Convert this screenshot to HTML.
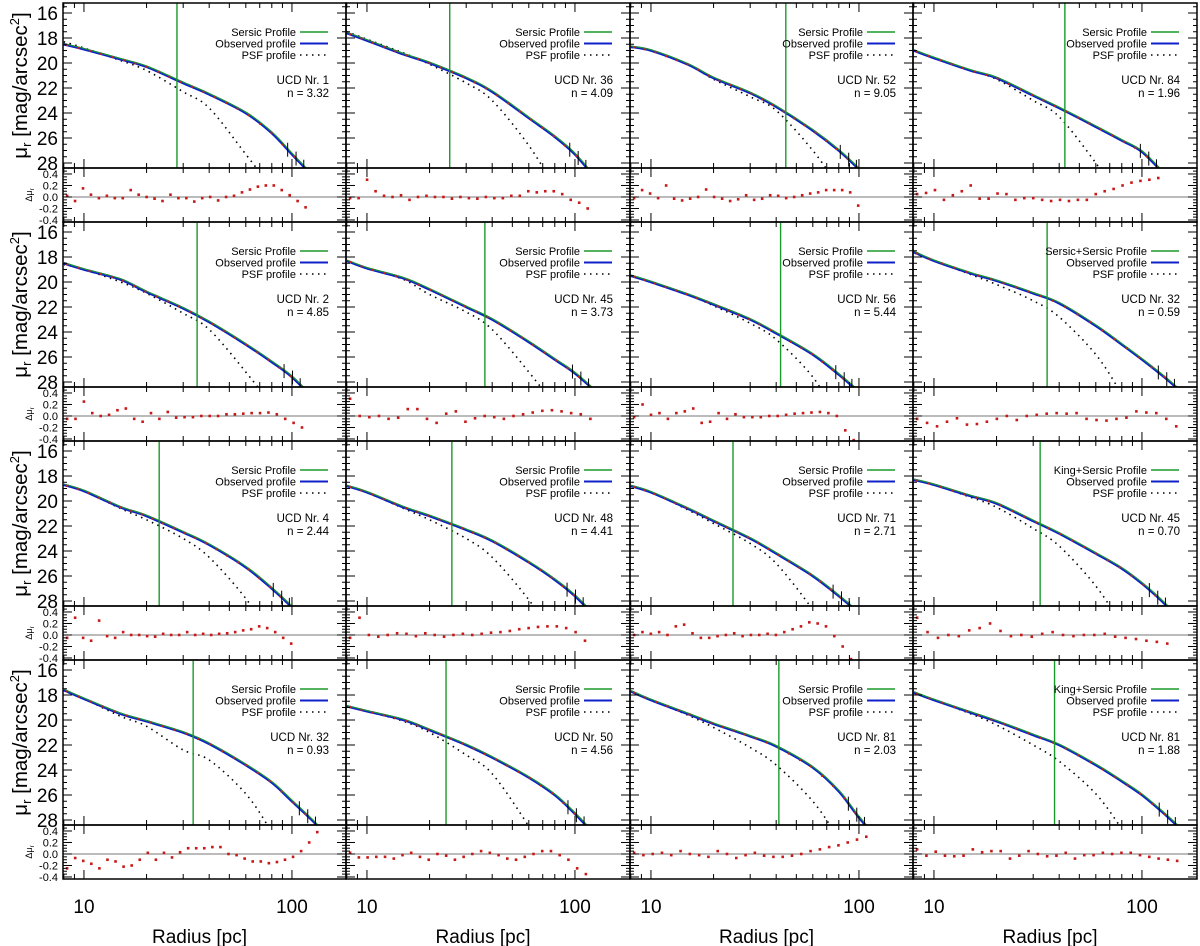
<!DOCTYPE html>
<html><head><meta charset="utf-8"><style>
html,body{margin:0;padding:0;background:#fff;}
svg{display:block;font-family:"Liberation Sans",sans-serif;}
</style></head><body>
<svg id="fig" width="1200" height="946" viewBox="0 0 1200 946" xmlns="http://www.w3.org/2000/svg"></svg>
<script>
// ---- data ----
const radiusGrid=[8,10,15,20,30,40,60,80,100,130,160];
const ucdLabels=["UCD Nr. 1","UCD Nr. 36","UCD Nr. 52","UCD Nr. 84","UCD Nr. 2","UCD Nr. 45","UCD Nr. 56","UCD Nr. 32","UCD Nr. 4","UCD Nr. 48","UCD Nr. 71","UCD Nr. 45","UCD Nr. 32","UCD Nr. 50","UCD Nr. 81","UCD Nr. 81"];
const sersicN=["3.32","4.09","9.05","1.96","4.85","3.73","5.44","0.59","2.44","4.41","2.71","0.70","0.93","4.56","2.03","1.88"];
const modelNames=["Sersic Profile","Sersic Profile","Sersic Profile","Sersic Profile","Sersic Profile","Sersic Profile","Sersic Profile","Sersic+Sersic Profile","Sersic Profile","Sersic Profile","Sersic Profile","King+Sersic Profile","Sersic Profile","Sersic Profile","Sersic Profile","King+Sersic Profile"];
const vlineRadius=[28,25,44.5,42.6,35,36.9,42,35,23,25.6,24.8,32.4,33.5,24,41.2,38];
const observedMu=[
[18.5,18.9,19.7,20.3,21.6,22.5,24.0,25.6,27.3,29.3,31],
[17.6,18.2,19.3,20.0,21.2,22.3,24.4,25.9,27.3,29.5,31],
[18.7,19.0,20.1,21.2,22.4,23.5,25.4,27.0,28.5,30.5,32],
[19.0,19.6,20.6,21.2,22.6,23.6,25.1,26.2,27.1,29.0,30.5],
[18.5,19.0,19.8,20.8,22.1,23.2,25.0,26.4,27.6,29.5,31],
[18.3,18.9,19.7,20.6,22.0,23.0,24.8,26.2,27.3,29.0,30.5],
[19.5,20.0,21.0,21.8,23.0,24.1,25.8,27.4,28.8,30.5,32],
[17.6,18.3,19.3,19.9,20.9,21.7,23.5,25.0,26.2,27.7,29.0],
[18.7,19.2,20.5,21.2,22.5,23.5,25.3,27.0,28.5,30.5,32],
[18.8,19.3,20.5,21.2,22.3,23.2,24.9,26.3,27.6,29.5,31],
[18.8,19.3,20.6,21.6,23.0,24.2,26.0,27.6,29.0,31,33],
[18.3,18.7,19.6,20.2,21.6,22.6,24.2,25.4,26.6,28.3,30],
[17.6,18.3,19.5,20.1,21.0,21.9,23.6,25.0,26.5,28.3,30],
[18.9,19.3,20.0,20.8,22.0,23.0,24.6,26.0,27.5,29.5,31],
[17.7,18.4,19.5,20.3,21.3,22.1,23.8,25.7,27.8,30,32],
[17.8,18.4,19.4,20.1,21.2,22.0,23.6,24.9,26.0,27.6,29.0]];
const psfMu=[
[18.3,18.8,19.8,20.6,22.3,23.6,27.3,30,32,34,36],
[17.5,18.1,19.2,20.1,21.6,23.0,26.6,30,33,35,37],
[18.7,19.0,20.1,21.3,22.7,23.8,27.0,30,33,35,37],
[19.0,19.6,20.6,21.3,23.0,24.3,28.0,31,33,35,37],
[18.6,19.0,20.0,20.9,22.5,23.8,27.2,30,33,35,37],
[18.3,18.9,19.8,21.0,22.4,23.8,27.2,30,33,35,37],
[19.5,20.0,21.0,21.9,23.3,24.6,27.6,31,33,35,37],
[17.6,18.3,19.4,20.2,21.5,22.8,25.8,29,32,35,37],
[18.7,19.2,20.6,21.5,23.0,24.5,27.8,31,33,35,37],
[18.8,19.3,20.6,21.5,23.0,24.5,27.9,31,33,35,37],
[18.8,19.3,20.7,21.8,23.4,25.0,28.7,32,34,36,38],
[18.3,18.7,19.7,20.5,22.2,23.6,26.8,30,33,35,37],
[17.6,18.3,19.7,20.5,22.4,23.2,25.9,29,32,35,37],
[18.9,19.3,20.1,21.0,22.8,24.3,28.5,32,34,36,38],
[17.7,18.4,19.6,20.6,22.2,23.6,26.5,29.5,32,35,37],
[17.8,18.4,19.5,20.4,22.0,23.3,25.9,28.7,31,34,36]];
const residuals=[
[0.02,-0.07,0.15,0.04,-0.02,0.02,-0.02,-0.02,0.12,0.04,0,-0.03,-0.07,0.04,-0.02,-0.02,-0.08,-0.02,0,-0.06,0,0.02,0.08,0.13,0.18,0.2,0.2,0.12,0.03,-0.07,-0.18],
[-0.02,-0.02,0.3,0.1,0.02,0,0.03,-0.05,0,0.02,0,0,-0.03,0,-0.02,-0.03,0,-0.02,-0.02,0.02,0.02,0.1,0.08,0.1,0.1,0.05,-0.05,-0.1,-0.2],
[-0.02,0.12,0.06,-0.02,0.2,-0.03,-0.06,-0.03,0,0.13,0,-0.03,-0.07,-0.04,0.03,-0.05,-0.03,0.03,0.02,-0.02,0,0.03,0.06,0.08,0.12,0.12,0.12,0.08,-0.15],
[0.05,0.07,0.12,-0.05,0.03,0.1,0.2,-0.03,-0.03,0.06,0.05,-0.05,-0.02,-0.02,-0.05,-0.07,-0.05,-0.07,-0.05,-0.05,0.05,0.1,0.14,0.2,0.25,0.28,0.3,0.33],
[-0.05,-0.05,0.25,0.05,0,0.02,0.1,0.13,-0.05,-0.1,0.05,-0.05,0.07,-0.03,-0.02,-0.02,0,0,0,0.03,0.03,0.04,0.05,0.05,0.06,0.03,-0.05,-0.12,-0.2],
[0.3,0,-0.02,0,-0.05,-0.03,0.12,0.12,-0.05,-0.12,0.04,0.08,-0.1,-0.04,0,-0.02,-0.05,0,0.03,0.06,0.09,0.1,0.08,0.05,0.03,-0.05],
[-0.02,0.2,0.02,0.05,-0.05,0.05,0.08,0.13,-0.12,-0.1,0.05,-0.05,0.03,-0.02,-0.02,-0.02,0,0,0.02,0.04,0.05,0.06,0.07,0.05,0,-0.25,-0.42],
[-0.05,-0.12,-0.18,-0.1,-0.04,-0.15,-0.14,-0.1,-0.05,0,-0.07,0,0.02,0.04,0.05,0.04,0.05,-0.05,-0.07,-0.08,-0.05,-0.03,0.08,0.06,0.05,-0.05,-0.18],
[-0.05,0.3,-0.05,-0.1,0.25,-0.02,-0.05,0.05,0,0,-0.02,-0.03,0.02,0,0,0.05,0,0.02,0,0.02,0.03,0.05,0.08,0.1,0.15,0.12,0.05,-0.05,-0.15],
[-0.05,0.3,0,-0.03,0,0.03,0.02,-0.02,0.03,0,-0.03,0,0.02,0,0.02,0.04,0.05,0.07,0.1,0.12,0.14,0.15,0.15,0.12,0.05,-0.1],
[0,0.05,0.02,0.05,0,0.15,0.18,0.03,-0.05,-0.05,-0.02,0,0.03,-0.02,0,0,0.02,0,0.05,0.1,0.15,0.22,0.2,0.15,-0.02,-0.2,-0.42],
[0.3,0.05,-0.05,0,-0.02,0.08,0.12,0.2,0.07,-0.02,0,-0.03,0.02,0.05,0,-0.02,0,0,0.02,-0.03,-0.05,-0.07,-0.1,-0.12,-0.15],
[-0.25,-0.07,-0.12,-0.17,-0.25,-0.1,-0.13,-0.22,-0.2,-0.1,0.02,-0.1,0.02,-0.06,0.03,0.1,0.1,0.1,0.12,0.12,0,-0.02,-0.08,-0.13,-0.13,-0.16,-0.14,-0.1,-0.05,0.05,0.2,0.38],
[0.02,-0.06,-0.06,-0.05,-0.05,-0.08,-0.02,0.02,-0.05,-0.1,0,-0.03,-0.1,-0.05,0,0.05,0.02,-0.02,-0.08,-0.1,-0.05,0,0.05,0.05,-0.02,-0.1,-0.25,-0.35],
[0.02,-0.02,0,0.02,-0.02,0.05,0,-0.02,-0.05,0.05,0,-0.07,-0.02,0.02,-0.03,-0.05,-0.05,-0.03,0,0.05,0.08,0.12,0.15,0.2,0.25,0.3],
[0.08,-0.03,0.04,-0.03,-0.04,-0.03,0.08,0.03,0.05,0.05,-0.08,-0.03,0.05,0,-0.04,-0.03,0.02,-0.08,-0.02,-0.02,0.02,0,0.02,0.02,-0.02,-0.05,-0.08,-0.1,-0.12]];
const yTicksMain=[16,18,20,22,24,26,28];
const yTicksRes=[0.4,0.2,0.0,-0.2,-0.4];
const xTickLabels=[10,100];

// ---- layout ----
const NS="http://www.w3.org/2000/svg";
const svg=document.getElementById('fig');
const colL=[63,346,630,913], colW=[283,284,283,284];
const rowT=[3,222,441,660], mainH=165, resH=54;
const MU_TOP=15.2, MU_PX=12.5;
const RES_TOP=0.504, RES_PX=57.5;
const LOG_MIN=Math.log10(7.93), DEC=208;
function mk(tag,attrs,parent){const e=document.createElementNS(NS,tag);for(const k in attrs)e.setAttribute(k,attrs[k]);(parent||svg).appendChild(e);return e;}
function xs(c,r){return colL[c]+DEC*(Math.log10(r)-LOG_MIN);}
function ym(rw,mu){return rowT[rw]+(mu-MU_TOP)*MU_PX;}
function yr(rw,v){return rowT[rw]+mainH+(RES_TOP-v)*RES_PX;}
function smooth(pts){let d="M"+pts[0][0].toFixed(1)+","+pts[0][1].toFixed(1);
 for(let i=0;i<pts.length-1;i++){const p0=pts[Math.max(0,i-1)],p1=pts[i],p2=pts[i+1],p3=pts[Math.min(pts.length-1,i+2)];
 d+=" C"+(p1[0]+(p2[0]-p0[0])/6).toFixed(1)+","+(p1[1]+(p2[1]-p0[1])/6).toFixed(1)+" "+(p2[0]-(p3[0]-p1[0])/6).toFixed(1)+","+(p2[1]-(p3[1]-p1[1])/6).toFixed(1)+" "+p2[0].toFixed(1)+","+p2[1].toFixed(1);}
 return d;}
function muAt(arr,r){const lr=Math.log10(r);for(let i=0;i<radiusGrid.length-1;i++){const a=Math.log10(radiusGrid[i]),b=Math.log10(radiusGrid[i+1]);if(lr<=b){const t=(lr-a)/(b-a);return arr[i]+t*(arr[i+1]-arr[i]);}}return arr[arr.length-1];}
function endRadius(arr){for(let r=8;r<180;r*=1.01){if(muAt(arr,r)>=28.4)return r;}return 180;}

const defs=mk('defs',{});
for(let rw=0;rw<4;rw++)for(let c=0;c<4;c++){
 const p=rw*4+c, L=colL[c], W=colW[c], T=rowT[rw];
 const cp=mk('clipPath',{id:'cm'+p},defs); mk('rect',{x:L,y:T,width:W,height:mainH},cp);
 const g=mk('g',{});
 
 
 const pg=mk('g',{'clip-path':'url(#cm'+p+')'},g);
 const psfPts=radiusGrid.map((r,i)=>[xs(c,r),ym(rw,psfMu[p][i])]);
 const ps=mk('path',{d:smooth(psfPts),fill:'none',stroke:'#000','stroke-width':1.6,'stroke-dasharray':'1.5 4.5'},pg);
 
 
 const obsPts=radiusGrid.map((r,i)=>[xs(c,r),ym(rw,observedMu[p][i])]);
 const ob=mk('path',{d:smooth(obsPts),fill:'none',stroke:'#1020c8','stroke-width':2.6},pg);
 
 
 const se=mk('path',{d:smooth(obsPts),fill:'none',stroke:'#1a9a2a','stroke-width':1.1,transform:'translate(0.6,-0.6)'},pg);
 
 
 const rEnd=endRadius(observedMu[p]);
 for(let k=0;k<22;k++){const r=8.3*Math.pow(rEnd/8.3,k/21);
  const d=mk('rect',{x:xs(c,r)-1,y:ym(rw,muAt(observedMu[p],r))-1,width:2,height:2,fill:'#c02020'},pg);
  
  }
 for(let k=0;k<3;k++){const r=rEnd*(0.82+0.08*k);const y=ym(rw,muAt(observedMu[p],r));
  mk('line',{x1:xs(c,r),x2:xs(c,r),y1:y-7,y2:y+7,stroke:'#000','stroke-width':1},pg);}
 const vl=mk('line',{x1:xs(c,vlineRadius[p]),x2:xs(c,vlineRadius[p]),y1:T,y2:T+mainH,stroke:'#1a9a2a','stroke-width':1.4},pg);
 
 
 mk('line',{x1:L,x2:L+W,y1:yr(rw,0),y2:yr(rw,0),stroke:'#777','stroke-width':1},g);
 const n=residuals[p].length;
 residuals[p].forEach((v,k)=>{const r=8.3*Math.pow(rEnd/8.3,k/(n-1));
  const d=mk('rect',{x:xs(c,r)-1.3,y:yr(rw,v)-1.3,width:2.6,height:2.6,fill:'#c81818'},g);
  
  });
 const tk=mk('g',{stroke:'#000','stroke-width':1},g);
 const xt=[8,9,10,20,30,40,50,60,70,80,90,100,200];
 xt.forEach(r=>{const x=xs(c,r);if(x<=L||x>=L+W)return;const len=(r===10||r===100)?9:5;
  [[T,1],[T+mainH,-1],[T+mainH,1],[T+mainH+resH,-1]].forEach(([y,s])=>mk('line',{x1:x,x2:x,y1:y,y2:y+s*len},tk));});
 for(let m=15.5;m<=28.5;m+=0.5){const y=ym(rw,m);if(y<=T+1||y>=T+mainH-1)continue;const len=(m%2===0)?9:4;
  mk('line',{x1:L,x2:L+len,y1:y,y2:y},tk);mk('line',{x1:L+W,x2:L+W-len,y1:y,y2:y},tk);}
 for(let v=-0.4;v<=0.45;v+=0.05){const y=yr(rw,v);const len=(Math.abs(Math.round(v*100))%20===0)?9:4;
  mk('line',{x1:L,x2:L+len,y1:y,y2:y},tk);mk('line',{x1:L+W,x2:L+W-len,y1:y,y2:y},tk);}
 mk('rect',{x:L,y:T,width:W,height:mainH,fill:'none',stroke:'#000','stroke-width':1.5},g);
 mk('rect',{x:L,y:T+mainH,width:W,height:resH,fill:'none',stroke:'#000','stroke-width':1.5},g);
 const lg=mk('g',{'font-size':'11','fill':'#000'},g);
 
 
 const R=L+W;
 const names=[modelNames[p],"Observed profile","PSF profile"];
 names.forEach((nm,k)=>{const t=mk('text',{x:R-50,y:T+33+k*11.5,'text-anchor':'end'},lg);t.textContent=nm;});
 mk('line',{x1:R-46,x2:R-18,y1:T+29,y2:T+29,stroke:'#1a9a2a','stroke-width':1.4},lg);
 mk('line',{x1:R-46,x2:R-18,y1:T+40.5,y2:T+40.5,stroke:'#1020c8','stroke-width':2},lg);
 mk('line',{x1:R-46,x2:R-18,y1:T+52,y2:T+52,stroke:'#000','stroke-width':1.5,'stroke-dasharray':'1.5 4.5'},lg);
 const u=mk('text',{x:R-17,y:T+81,'text-anchor':'end','font-size':'11.5'},g);u.textContent=ucdLabels[p];
 
 
 const nn=mk('text',{x:R-17,y:T+94,'text-anchor':'end','font-size':'11.5'},g);nn.textContent="n = "+sersicN[p];
 
 
 if(c===0){
  yTicksMain.forEach(m=>{const t=mk('text',{x:58,y:ym(rw,m)+7,'text-anchor':'end','font-size':'19'},svg);t.textContent=m;
   
   });
  yTicksRes.forEach(v=>{const t=mk('text',{x:58,y:yr(rw,v)+4,'text-anchor':'end','font-size':'11'},svg);t.textContent=v.toFixed(1);
   
   });
  const yt=mk('text',{transform:'translate(27,'+(T+mainH/2)+') rotate(-90)','text-anchor':'middle','font-size':'20.5'},svg);
  yt.innerHTML='μ<tspan font-size="13" dy="4">r</tspan><tspan dy="-4"> [mag/arcsec</tspan><tspan font-size="13" dy="-8">2</tspan><tspan dy="8">]</tspan>';
  
  
  const rt=mk('text',{transform:'translate(32,'+(T+mainH+resH/2)+') rotate(-90)','text-anchor':'middle','font-size':'9'},svg);
  rt.innerHTML='Δμ<tspan font-size="6" dy="2">r</tspan>';
  
  
 }
}
for(let c=0;c<4;c++){
 xTickLabels.forEach(v=>{const t=mk('text',{x:xs(c,v),y:913,'text-anchor':'middle','font-size':'19'},svg);t.textContent=v;
  
  });
 const t=mk('text',{x:colL[c]+colW[c]/2-5,y:943,'text-anchor':'middle','font-size':'19'},svg);t.textContent="Radius [pc]";
 
 
}
</script>
</body></html>
